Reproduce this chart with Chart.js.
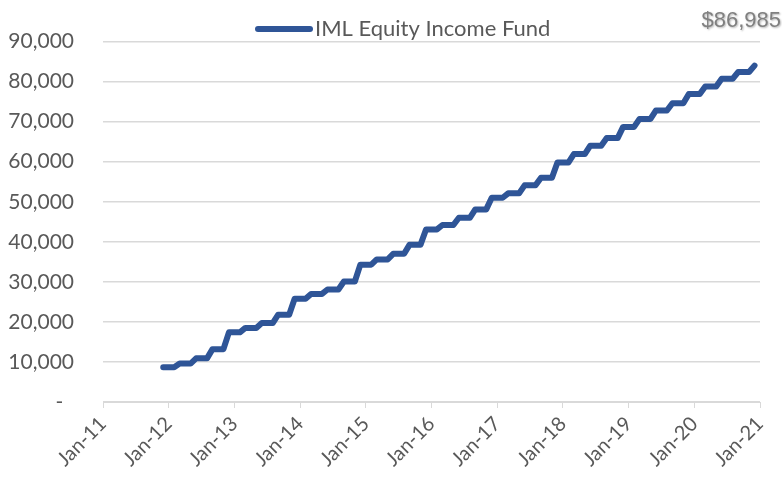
<!DOCTYPE html>
<html>
<head>
<meta charset="utf-8">
<script src="https://cdn.jsdelivr.net/npm/chart.js@4.4.1/dist/chart.umd.min.js"></script>
<style>
  html, body { margin: 0; padding: 0; background: #fff; }
  #wrap { width: 782px; height: 479px; position: relative; }
</style>
</head>
<body>
<div id="wrap"><canvas id="fundChart"></canvas></div>
<script>
// month-end values, first point Dec-11, last point Dec-20
const fundName = "IML Equity Income Fund";
const startMonth = 11; // months after Jan-11
const fundValues = [
    8700, 8700, 8700, 9600, 9600, 9600, 10900, 10900, 10900, 13200, 13200, 13200,
    17400, 17400, 17400, 18500, 18500, 18500, 19700, 19700, 19700, 21800, 21800, 21800,
    25800, 25800, 25800, 27000, 27000, 27000, 28100, 28100, 28100, 30100, 30100, 30100,
    34300, 34300, 34300, 35600, 35600, 35600, 37000, 37000, 37000, 39300, 39300, 39300,
    43100, 43100, 43100, 44200, 44200, 44200, 46000, 46000, 46000, 48100, 48100, 48100,
    51000, 51000, 51000, 52100, 52100, 52100, 54100, 54100, 54100, 56000, 56000, 56000,
    59800, 59800, 59800, 61900, 61900, 61900, 64000, 64000, 64000, 65900, 65900, 65900,
    68700, 68700, 68700, 70700, 70700, 70700, 72800, 72800, 72800, 74600, 74600, 74600,
    76900, 76900, 76900, 78800, 78800, 78800, 80700, 80700, 80700, 82400, 82400, 82400,
    84000
];
const xTickLabels = ["Jan-11", "Jan-12", "Jan-13", "Jan-14", "Jan-15", "Jan-16",
    "Jan-17", "Jan-18", "Jan-19", "Jan-20", "Jan-21"];
const yTickValues = [0, 10000, 20000, 30000, 40000, 50000, 60000, 70000, 80000, 90000];
const endLabel = "$86,985";
const lineColor = "#2f5597";

const points = fundValues.map((v, i) => ({ x: startMonth + i, y: v }));

// legend and the end value label, drawn on top of the chart
const labelsPlugin = {
    id: "labels",
    afterDraw(chart) {
        const ctx = chart.ctx;
        ctx.save();
        ctx.strokeStyle = lineColor;
        ctx.lineWidth = 6;
        ctx.lineCap = "round";
        ctx.beginPath();
        ctx.moveTo(258, 29);
        ctx.lineTo(310, 29);
        ctx.stroke();
        ctx.font = "22px Lato";
        ctx.fillStyle = "#595959";
        ctx.textAlign = "left";
        ctx.textBaseline = "middle";
        ctx.fillText(chart.data.datasets[0].label, 315, 29);

        ctx.font = "22px 'Liberation Sans', Arial, sans-serif";
        ctx.fillStyle = "#808080";
        ctx.textAlign = "right";
        ctx.textBaseline = "alphabetic";
        ctx.shadowColor = "rgba(0,0,0,0.3)";
        ctx.shadowBlur = 2;
        ctx.shadowOffsetX = 1;
        ctx.shadowOffsetY = 1;
        ctx.fillText(endLabel, 781, 27);
        ctx.restore();
    }
};

new Chart(document.getElementById("fundChart"), {
    type: "line",
    data: {
        datasets: [{
            label: fundName,
            data: points,
            borderColor: lineColor,
            backgroundColor: lineColor,
            borderWidth: 6,
            borderCapStyle: "round",
            borderJoinStyle: "round",
            pointRadius: 0,
            tension: 0,
            fill: false
        }]
    },
    options: {
        responsive: true,
        maintainAspectRatio: false,
        animation: false,
        layout: { padding: { top: 31, right: 22, left: 0, bottom: 0 } },
        plugins: {
            tooltip: { enabled: false },
            legend: { display: false }
        },
        scales: {
            x: {
                type: "linear",
                min: 0,
                max: 120,
                afterBuildTicks(scale) {
                    scale.ticks = xTickLabels.map((l, i) => ({ value: i * 12 }));
                },
                afterFit(scale) { scale.height = 77; },
                border: { display: true, color: "#d9d9d9", width: 1 },
                grid: { drawOnChartArea: false, drawTicks: true, tickLength: 6, color: "#d9d9d9" },
                ticks: {
                    autoSkip: false,
                    maxRotation: 45,
                    minRotation: 45,
                    padding: 4,
                    color: "#595959",
                    font: { family: "Lato", size: 20 },
                    callback: (v) => xTickLabels[Math.round(v / 12)]
                }
            },
            y: {
                min: 0,
                max: 90000,
                afterBuildTicks(scale) {
                    scale.ticks = yTickValues.map(v => ({ value: v }));
                },
                afterFit(scale) { scale.width = 103; },
                border: { display: false },
                grid: { color: "#d9d9d9", lineWidth: 1.5, drawTicks: false },
                ticks: {
                    padding: 29,
                    color: "#595959",
                    font: { family: "Lato", size: 21 },
                    callback: (v) => v === 0 ? "-  " : v.toLocaleString("en-US")
                }
            }
        }
    },
    plugins: [labelsPlugin]
});
</script>
</body>
</html>
